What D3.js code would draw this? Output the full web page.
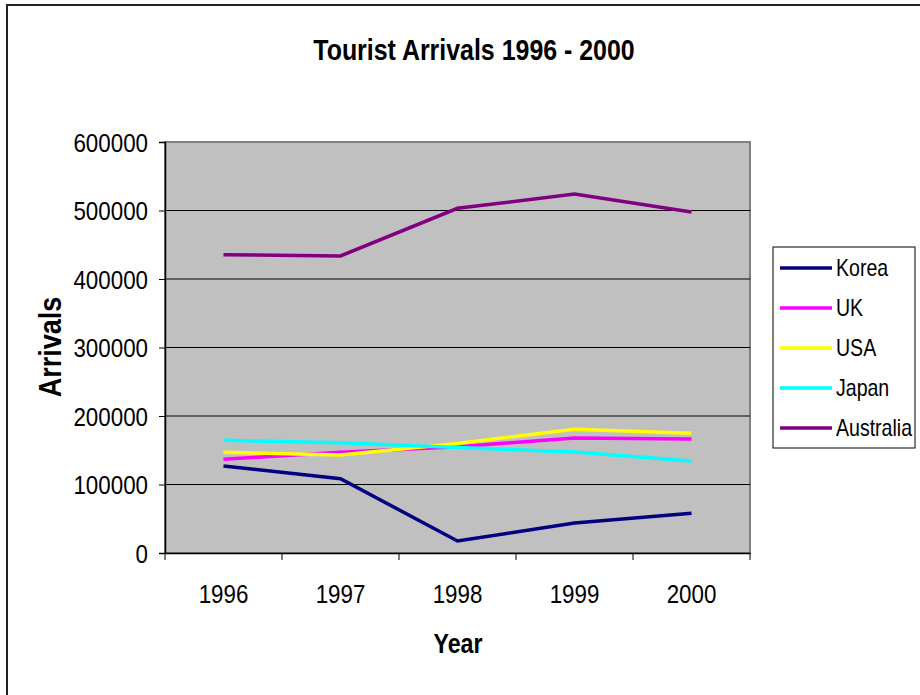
<!DOCTYPE html>
<html>
<head>
<meta charset="utf-8">
<script src="https://cdn.jsdelivr.net/npm/d3@7"></script>
<style>
  body { margin: 0; background: #fff; }
  text { font-family: "Liberation Sans", Arial, sans-serif; fill: #000; }
</style>
</head>
<body>
<div id="chart"></div>
<script>
// data
var years = ['1996', '1997', '1998', '1999', '2000'];
var korea = [127000, 108500, 17500, 43800, 58000];
var uk = [136800, 147000, 155000, 168000, 166400];
var usa = [147000, 143000, 160000, 180600, 174700];
var japan = [164500, 161000, 154000, 147400, 134300];
var australia = [435500, 433600, 503200, 524000, 497800];
var seriesNames = ['Korea', 'UK', 'USA', 'Japan', 'Australia'];
var seriesColors = ['#000080', '#ff00ff', '#ffff00', '#00ffff', '#800080'];
var yTicks = [0, 100000, 200000, 300000, 400000, 500000, 600000];

var series = [korea, uk, usa, japan, australia];

var svgWidth = 920;
var svgHeight = 695;

// plot area
var plot = { left: 165, top: 142, right: 750, bottom: 553 };

// the original uses a narrow face, so squash text horizontally
var squash = 0.86;
function condense(sel, k) {
  sel.each(function() {
    var t = d3.select(this);
    var tx = +t.attr('x') || 0;
    var ty = +t.attr('y') || 0;
    var pre = t.attr('transform') || `translate(${tx}, ${ty})`;
    t.attr('x', 0).attr('y', 0)
      .attr('transform', `${pre} scale(${k}, 1)`);
  });
}

var svg = d3.select('#chart').append('svg')
  .attr('width', svgWidth)
  .attr('height', svgHeight);

// outer chart border (runs off the right / bottom)
svg.append('rect')
  .attr('x', 7).attr('y', 5)
  .attr('width', 960).attr('height', 760)
  .attr('fill', '#fff')
  .attr('stroke', '#222')
  .attr('stroke-width', 2);

var x = d3.scaleBand()
  .domain(years)
  .range([plot.left, plot.right]);

var y = d3.scaleLinear()
  .domain([0, 600000])
  .range([plot.bottom, plot.top]);

// grey plot background
svg.append('rect')
  .attr('x', plot.left).attr('y', plot.top)
  .attr('width', plot.right - plot.left)
  .attr('height', plot.bottom - plot.top)
  .attr('fill', '#c0c0c0')
  .attr('stroke', '#808080')
  .attr('stroke-width', 2);

// gridlines
svg.append('g')
  .selectAll('line')
  .data(yTicks.slice(1, -1))
  .enter()
  .append('line')
  .attr('x1', plot.left).attr('x2', plot.right)
  .attr('y1', d => y(d)).attr('y2', d => y(d))
  .attr('stroke', '#000')
  .attr('stroke-width', 1);

// y axis
var yAxis = d3.axisLeft(y)
  .tickValues(yTicks)
  .tickFormat(d3.format('d'))
  .tickSize(6)
  .tickPadding(11);

var yG = svg.append('g')
  .attr('transform', `translate(${plot.left}, 0)`)
  .call(yAxis);
yG.select('.domain').attr('stroke', '#000').attr('stroke-width', 1.5);
yG.selectAll('text')
  .attr('font-size', 26)
  .attr('font-family', null)
  .attr('dy', '0.36em')
  .call(condense, squash);

// x axis: labels centred on bands, ticks on band edges
var xAxis = d3.axisBottom(x).tickSize(0).tickPadding(32);
var xG = svg.append('g')
  .attr('transform', `translate(0, ${plot.bottom})`)
  .call(xAxis);
xG.select('.domain').attr('stroke', '#000').attr('stroke-width', 1.5);
xG.selectAll('text')
  .attr('font-size', 26)
  .attr('font-family', null)
  .call(condense, squash);

var edges = years.map(d => x(d)).concat([plot.right]);
svg.append('g')
  .selectAll('line')
  .data(edges)
  .enter()
  .append('line')
  .attr('x1', d => d).attr('x2', d => d)
  .attr('y1', plot.bottom).attr('y2', plot.bottom + 7)
  .attr('stroke', '#000');

// lines
var line = d3.line()
  .x((d, i) => x(years[i]) + x.bandwidth() / 2)
  .y(d => y(d));

svg.append('g')
  .selectAll('path')
  .data(series)
  .enter()
  .append('path')
  .attr('d', d => line(d))
  .attr('fill', 'none')
  .attr('stroke', (d, i) => seriesColors[i])
  .attr('stroke-width', 3.5);

// titles
svg.append('text')
  .attr('x', 474).attr('y', 60)
  .attr('text-anchor', 'middle')
  .attr('font-size', 29)
  .attr('font-weight', 'bold')
  .text('Tourist Arrivals 1996 - 2000')
  .call(condense, squash);

svg.append('text')
  .attr('x', 458).attr('y', 653)
  .attr('text-anchor', 'middle')
  .attr('font-size', 27)
  .attr('font-weight', 'bold')
  .text('Year')
  .call(condense, squash);

svg.append('text')
  .attr('transform', 'translate(61, 347) rotate(-90)')
  .attr('text-anchor', 'middle')
  .attr('font-size', 31)
  .attr('font-weight', 'bold')
  .text('Arrivals')
  .call(condense, 0.87);

// legend
var legend = svg.append('g');
legend.append('rect')
  .attr('x', 773).attr('y', 247)
  .attr('width', 142).attr('height', 201)
  .attr('fill', '#fff')
  .attr('stroke', '#000')
  .attr('stroke-width', 1);

var rows = legend.selectAll('g.row')
  .data(seriesNames)
  .enter()
  .append('g')
  .attr('class', 'row')
  .attr('transform', (d, i) => `translate(0, ${268 + i * 40})`);

rows.append('line')
  .attr('x1', 780).attr('x2', 832)
  .attr('y1', 0).attr('y2', 0)
  .attr('stroke', (d, i) => seriesColors[i])
  .attr('stroke-width', 3.5);

rows.append('text')
  .attr('x', 836).attr('y', 8)
  .attr('font-size', 23)
  .text(d => d)
  .call(condense, 0.85);
</script>
</body>
</html>
